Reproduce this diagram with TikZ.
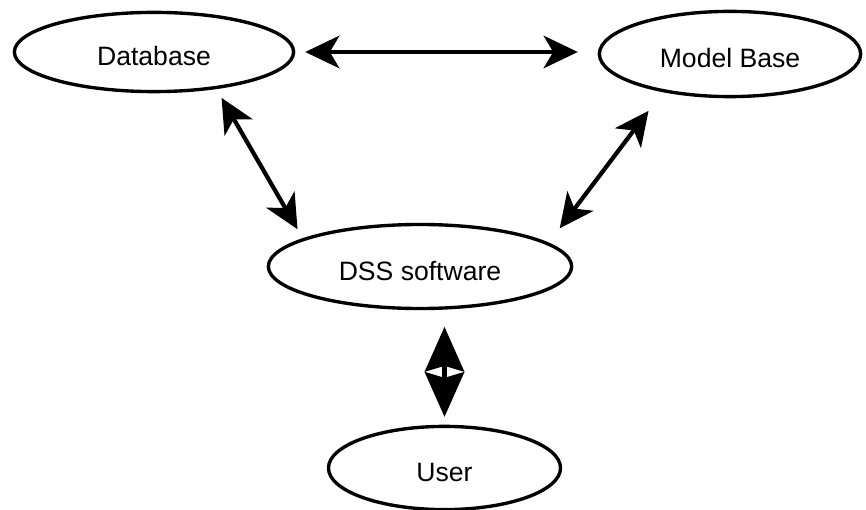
\documentclass[tikz,border=0pt]{standalone}
\usepackage{fontspec}
\setmainfont{Liberation Sans}
\usetikzlibrary{arrows.meta,shapes.geometric}

\begin{document}
\begin{tikzpicture}[x=0.025cm,y=-0.025cm,
    part/.style={draw,ellipse,line width=2.4pt,inner sep=0pt,outer sep=0pt,
      font=\fontsize{18.9}{22}\selectfont,text height=19.5pt,text depth=0pt},
    head/.tip={Stealth[length=24.5pt,width=23.5pt,inset=7pt,line width=0pt]},
    bighead/.tip={Stealth[length=32pt,width=28.5pt,inset=4.3pt,line width=0pt]},
    link/.style={line width=3pt,{head}-{head}},
    fatlink/.style={line width=3pt,{bighead}-{bighead}}]
    \useasboundingbox (0,0) rectangle (866,510);

    % the four parts
    \node[part,minimum width=6.98cm,minimum height=1.98cm] (db) at (154,52) {Database};
    \node[part,minimum width=6.53cm,minimum height=2.13cm] (mb) at (730,54) {Model Base};
    \node[part,minimum width=7.58cm,minimum height=2.1cm] (dss) at (420,266.5) {DSS software};
    \node[part,minimum width=5.8cm,minimum height=2.08cm] (user) at (444.5,468) {User};

    % two-way links
    \draw[link,shorten <=0.29cm,shorten >=0.54cm] (db.east) -- (mb.west |- db.east);
    \draw[link,shorten <=0.3cm,shorten >=0.3cm] (db.-30) -- (dss.167);
    \draw[link,shorten <=0.63cm,shorten >=0.49cm] (mb.-151.5) -- (dss.10);
    \draw[fatlink,shorten <=0.46cm,shorten >=0.24cm] (user.north |- dss.south) -- (user.north);
\end{tikzpicture}
\end{document}
